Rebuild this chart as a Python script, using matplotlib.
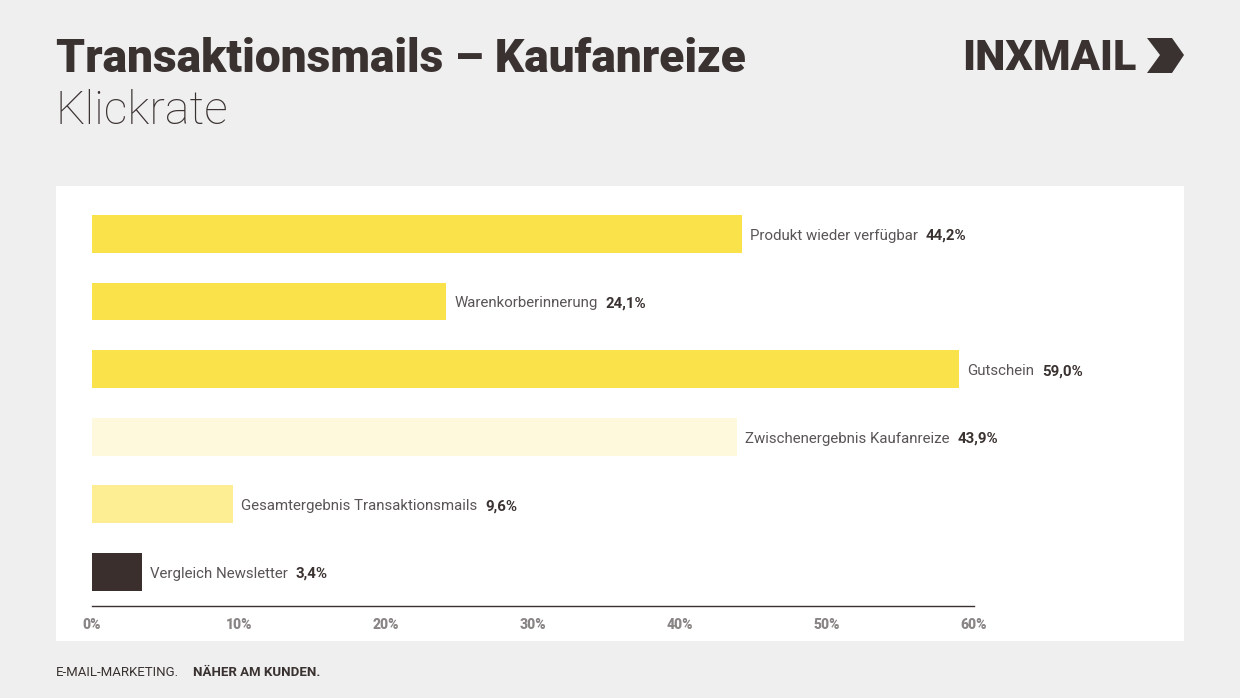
import matplotlib.pyplot as plt
from matplotlib.patches import Rectangle, Polygon

categories = ["Produkt wieder verfügbar", "Warenkorberinnerung", "Gutschein",
              "Zwischenergebnis Kaufanreize", "Gesamtergebnis Transaktionsmails",
              "Vergleich Newsletter"]
values = [44.2, 24.1, 59.0, 43.9, 9.6, 3.4]
value_labels = ["44,2%", "24,1%", "59,0%", "43,9%", "9,6%", "3,4%"]
bar_colors = ["#fae34a", "#fae34a", "#fae34a", "#fef8dc", "#fdee94", "#3a2f2d"]
ticks = [0, 10, 20, 30, 40, 50, 60]
tick_labels = ["0%", "10%", "20%", "30%", "40%", "50%", "60%"]

DARK = "#3a3230"
W, H = 1240, 698

fig = plt.figure(figsize=(W / 100, H / 100), dpi=100, facecolor="#efefef")

# white panel
fig.patches.append(Rectangle((56 / W, 1 - 641 / H), (1184 - 56) / W, (641 - 186) / H,
                             transform=fig.transFigure, facecolor="white",
                             edgecolor="none", zorder=-5))

ax = fig.add_axes([92 / W, 1 - 606 / H, (974 - 92) / W, 406 / H])
ax.set_zorder(3)
ax.set_facecolor("none")

ypos = list(range(len(categories)))
ax.barh(ypos, values, height=0.56, color=bar_colors, zorder=2)
ax.set_xlim(0, 60)
ax.set_ylim(len(categories) - 0.497, -0.5)

for y, v, cat, vl in zip(ypos, values, categories, value_labels):
    t = ax.annotate(cat, xy=(v, y), xytext=(8, -2), textcoords="offset pixels",
                    va="center", ha="left", fontsize=10.8, color="#5a5555",
                    family="Roboto", annotation_clip=False)
    ax.annotate(vl, xy=(1, 0.5), xycoords=t, xytext=(8, 0), textcoords="offset pixels",
                va="center", ha="left", fontsize=10.8, color=DARK,
                family="Roboto", fontweight="bold")

for s in ["top", "right", "left"]:
    ax.spines[s].set_visible(False)
ax.spines["bottom"].set_color("#3a3230")
ax.spines["bottom"].set_linewidth(1.0)
ax.set_yticks([])
ax.set_xticks(ticks)
ax.set_xticklabels(tick_labels, fontsize=10, color="#8a8585", fontweight="black",
                   family="Roboto")
ax.tick_params(axis="x", length=0, pad=8.5)

# titles
fig.text(56 / W, 1 - 72 / H, "Transaktionsmails – Kaufanreize", fontsize=33.2,
         fontweight="black", color=DARK, family="Roboto", va="baseline")
fig.text(56 / W, 1 - 124 / H, "Klickrate", fontsize=33.5, fontweight="light",
         color=DARK, family="Roboto", va="baseline")

# footer
fig.text(56 / W, 1 - 676 / H, "E-MAIL-MARKETING.", fontsize=9.5, color=DARK,
         family="Roboto", va="baseline")
fig.text(193 / W, 1 - 676 / H, "NÄHER AM KUNDEN.", fontsize=9.5, color=DARK,
         family="Roboto", fontweight="bold", va="baseline")

# logo
fig.text(962 / W, 1 - 70 / H, "INXMAIL", fontsize=31, fontweight="black",
         color=DARK, family="Roboto", va="baseline")
icon = [(1147, 38), (1172, 38), (1184, 55), (1172, 73), (1147, 73), (1160, 55)]
fig.patches.append(Polygon([(x / W, 1 - y / H) for x, y in icon], closed=True,
                           transform=fig.transFigure, facecolor=DARK,
                           edgecolor="none"))

fig.savefig("out.png", dpi=100, facecolor=fig.get_facecolor())
